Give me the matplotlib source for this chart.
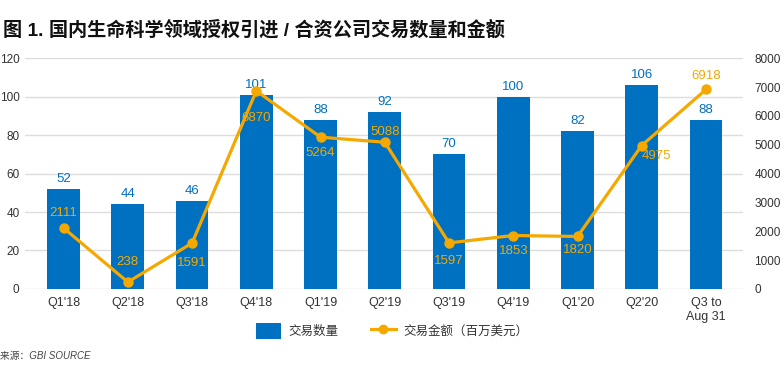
import matplotlib
matplotlib.use("Agg")
import matplotlib.pyplot as plt
from matplotlib.patches import Patch
from matplotlib.lines import Line2D

plt.rcParams['font.family'] = ['Liberation Sans', 'Noto Sans CJK SC', 'DejaVu Sans']

quarters = ["Q1'18", "Q2'18", "Q3'18", "Q4'18", "Q1'19", "Q2'19", "Q3'19",
            "Q4'19", "Q1'20", "Q2'20", "Q3 to\nAug 31"]
deal_counts = [52, 44, 46, 101, 88, 92, 70, 100, 82, 106, 88]
deal_amounts = [2111, 238, 1591, 6870, 5264, 5088, 1597, 1853, 1820, 4975, 6918]

# label offsets for the amount labels (pixels)
amount_offsets = [(0, 15), (0, 20), (0, -20), (0, -27), (0, -16), (0, 10),
                  (0, -18), (0, -15), (0, -14), (15, -10), (0, 13)]

blue = '#0070C0'
gold = '#F5A800'
text_col = '#333333'

fig = plt.figure(figsize=(7.84, 3.69), dpi=100)
ax = fig.add_axes([0.032, 0.217, 0.916, 0.625])
ax2 = ax.twinx()

x = list(range(len(quarters)))
ax.bar(x, deal_counts, width=0.51, color=blue, zorder=2)
for xi, v in zip(x, deal_counts):
    ax.annotate(str(v), (xi, v), xytext=(0, 4), textcoords='offset pixels',
                ha='center', va='bottom', color=blue, fontsize=9.5)

ax2.plot(x, deal_amounts, color=gold, linewidth=2.3, marker='o', markersize=6.5, zorder=3)
for xi, v, (dx, dy) in zip(x, deal_amounts, amount_offsets):
    ax2.annotate(str(v), (xi, v), xytext=(dx, dy), textcoords='offset pixels',
                 ha='center', va='center', color=gold, fontsize=9.5)

ax.set_xlim(-0.6, 10.58)
ax.set_ylim(0, 120)
ax2.set_ylim(0, 8000)
ax.set_yticks(range(0, 121, 20))
ax2.set_yticks(range(0, 8001, 1000))
ax.set_xticks(x)
ax.set_xticklabels(quarters)

ax.grid(axis='y', color='#dddddd', linewidth=1, zorder=0)
ax.set_axisbelow(True)
for a in (ax, ax2):
    for s in a.spines.values():
        s.set_visible(False)
    a.tick_params(length=0, colors=text_col, labelsize=8.5)
ax.tick_params(axis='y', pad=4)
ax2.tick_params(axis='y', pad=8)
ax.tick_params(axis='x', pad=6, labelsize=9)

fig.text(0.004, 0.918, "图 1. 国内生命科学领域授权引进 / 合资公司交易数量和金额",
         fontsize=13.8, fontweight='bold', color='#111111', va='center')

handles = [Patch(facecolor=blue, edgecolor='none'),
           Line2D([0], [0], color=gold, linewidth=2.3, marker='o', markersize=6)]
fig.legend(handles, ["交易数量", "交易金额（百万美元）"], loc='center',
           bbox_to_anchor=(0.5, 0.103), ncol=2, frameon=False, fontsize=9,
           handlelength=2.0, handleheight=1.7, handletextpad=0.6,
           columnspacing=2.6, labelcolor=text_col)

fig.text(0.0, 0.035, "来源：GBI SOURCE", fontsize=7, style='italic', color='#444444', va='center')

fig.savefig("out.png", dpi=100)
